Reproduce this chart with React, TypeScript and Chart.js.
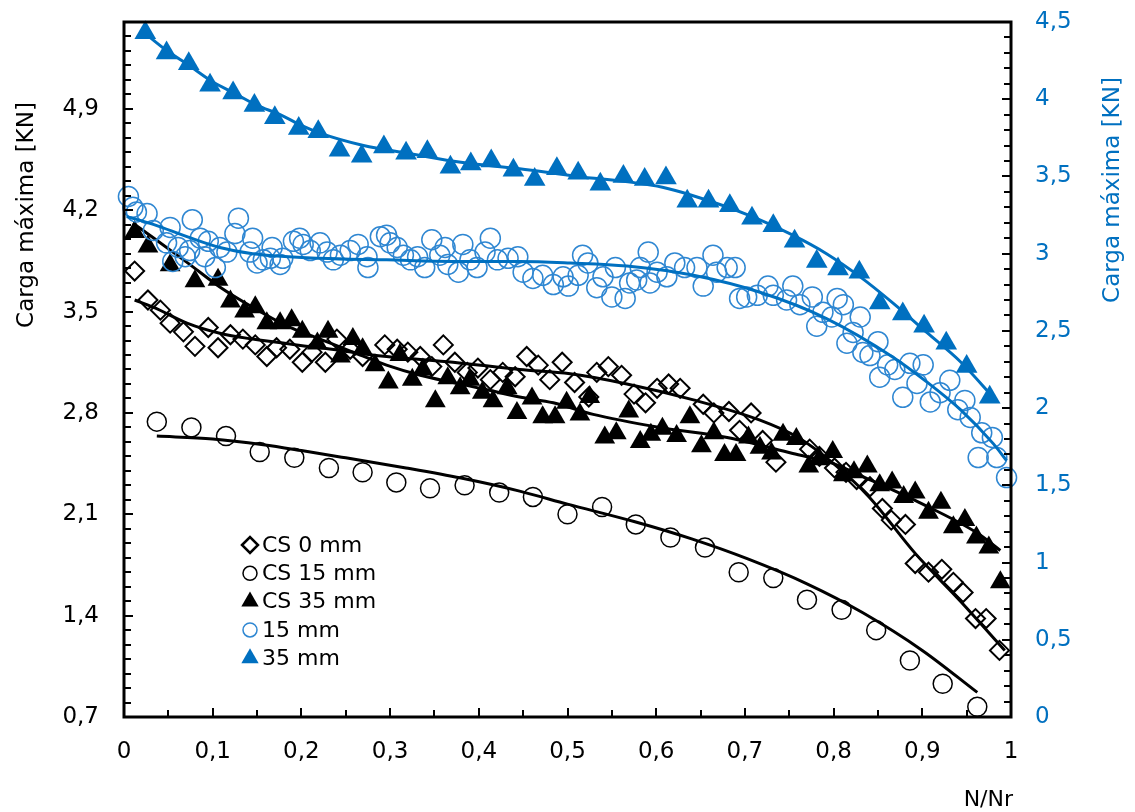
import React, { useEffect, useRef } from 'react';
import { Chart, registerables } from 'chart.js';

Chart.register(...registerables);

const FONT = '"DejaVu Sans", "Open Sans", sans-serif';
const BLACK = '#000000';
const BLUE = '#0070C0';
const BLUE_LIGHT = '#2F87D2';

// ---- axes ----
const X_MIN = 0;
const X_MAX = 1;
const Y_LEFT_MIN = 0.7;
const Y_LEFT_MAX = 5.5;
const Y_RIGHT_MIN = 0;
const Y_RIGHT_MAX = 4.5;
const X_TICKS = [0, 0.1, 0.2, 0.3, 0.4, 0.5, 0.6, 0.7, 0.8, 0.9, 1];
const Y_LEFT_TICKS = [0.7, 1.4, 2.1, 2.8, 3.5, 4.2, 4.9];
const Y_RIGHT_TICKS = [0, 0.5, 1, 1.5, 2, 2.5, 3, 3.5, 4, 4.5];
const X_MINOR_STEP = 0.05;
const Y_LEFT_MINOR_STEP = 0.1;
const Y_RIGHT_MINOR_STEP = 0.1;

const X_TITLE = 'N/Nr';
const Y_TITLE = 'Carga máxima [KN]';
const SERIES_NAMES = ['CS 0 mm', 'CS 15 mm', 'CS 35 mm', '15 mm', '35 mm'];

// ---- CS 0 mm (left axis) ----
const cs0X = [0.012, 0.027, 0.041, 0.052, 0.067, 0.080, 0.095, 0.106, 0.120, 0.134, 0.148, 0.161, 0.172, 0.187, 0.201, 0.212, 0.227, 0.240, 0.255, 0.269, 0.294, 0.308, 0.320, 0.334, 0.347, 0.360, 0.373, 0.387, 0.399, 0.413, 0.427, 0.441, 0.454, 0.467, 0.480, 0.494, 0.508, 0.524, 0.533, 0.546, 0.561, 0.575, 0.588, 0.601, 0.614, 0.627, 0.653, 0.665, 0.682, 0.694, 0.707, 0.720, 0.735, 0.773, 0.784, 0.801, 0.814, 0.826, 0.841, 0.855, 0.865, 0.881, 0.892, 0.907, 0.922, 0.935, 0.946, 0.960, 0.972, 0.987];
const cs0Y = [3.78, 3.58, 3.51, 3.42, 3.36, 3.26, 3.39, 3.25, 3.34, 3.31, 3.27, 3.19, 3.25, 3.24, 3.15, 3.22, 3.15, 3.31, 3.24, 3.19, 3.27, 3.24, 3.22, 3.19, 3.12, 3.27, 3.15, 3.08, 3.11, 3.03, 3.08, 3.05, 3.19, 3.13, 3.03, 3.15, 3.01, 2.91, 3.08, 3.12, 3.06, 2.93, 2.87, 2.97, 3.00, 2.97, 2.86, 2.80, 2.81, 2.68, 2.80, 2.61, 2.46, 2.55, 2.50, 2.42, 2.39, 2.34, 2.29, 2.14, 2.06, 2.03, 1.76, 1.70, 1.72, 1.63, 1.56, 1.38, 1.38, 1.16];
const cs0TrendX = [0.012, 0.033, 0.071, 0.108, 0.145, 0.221, 0.296, 0.371, 0.446, 0.503, 0.567, 0.642, 0.717, 0.760, 0.800, 0.840, 0.892, 0.943, 0.993];
const cs0TrendY = [3.58, 3.53, 3.42, 3.35, 3.31, 3.25, 3.19, 3.15, 3.10, 3.07, 3.00, 2.89, 2.75, 2.63, 2.45, 2.22, 1.83, 1.50, 1.16];

// ---- CS 15 mm (left axis) ----
const cs15X = [0.037, 0.076, 0.115, 0.153, 0.192, 0.231, 0.269, 0.307, 0.345, 0.384, 0.423, 0.461, 0.500, 0.539, 0.577, 0.616, 0.655, 0.693, 0.732, 0.770, 0.809, 0.848, 0.886, 0.923, 0.962];
const cs15Y = [2.74, 2.70, 2.64, 2.53, 2.49, 2.42, 2.39, 2.32, 2.28, 2.30, 2.25, 2.22, 2.10, 2.15, 2.03, 1.94, 1.87, 1.70, 1.66, 1.51, 1.44, 1.30, 1.09, 0.93, 0.77];
const cs15TrendX = [0.037, 0.100, 0.157, 0.200, 0.250, 0.318, 0.380, 0.446, 0.500, 0.575, 0.640, 0.704, 0.770, 0.833, 0.900, 0.962];
const cs15TrendY = [2.64, 2.62, 2.58, 2.54, 2.49, 2.42, 2.35, 2.26, 2.17, 2.05, 1.93, 1.79, 1.62, 1.42, 1.16, 0.87];

// ---- CS 35 mm (left axis) ----
const cs35X = [0.012, 0.027, 0.052, 0.080, 0.106, 0.120, 0.136, 0.148, 0.161, 0.176, 0.189, 0.201, 0.218, 0.230, 0.244, 0.258, 0.269, 0.283, 0.298, 0.311, 0.325, 0.337, 0.351, 0.365, 0.379, 0.390, 0.404, 0.416, 0.432, 0.443, 0.460, 0.472, 0.486, 0.499, 0.514, 0.525, 0.542, 0.555, 0.569, 0.582, 0.594, 0.607, 0.623, 0.638, 0.651, 0.665, 0.677, 0.690, 0.704, 0.717, 0.730, 0.743, 0.758, 0.772, 0.784, 0.799, 0.811, 0.823, 0.838, 0.852, 0.866, 0.879, 0.892, 0.907, 0.921, 0.935, 0.948, 0.961, 0.975, 0.988];
const cs35Y = [4.05, 3.95, 3.82, 3.71, 3.72, 3.57, 3.50, 3.53, 3.42, 3.42, 3.44, 3.36, 3.28, 3.36, 3.19, 3.31, 3.24, 3.13, 3.01, 3.20, 3.03, 3.10, 2.88, 3.04, 2.97, 3.03, 2.94, 2.88, 2.97, 2.80, 2.90, 2.77, 2.77, 2.87, 2.79, 2.91, 2.63, 2.66, 2.81, 2.60, 2.65, 2.69, 2.64, 2.77, 2.57, 2.66, 2.51, 2.51, 2.63, 2.56, 2.52, 2.65, 2.62, 2.43, 2.48, 2.53, 2.37, 2.39, 2.43, 2.30, 2.32, 2.22, 2.25, 2.11, 2.18, 2.01, 2.06, 1.94, 1.87, 1.63];
const cs35TrendX = [0.010, 0.033, 0.071, 0.108, 0.145, 0.184, 0.221, 0.258, 0.296, 0.334, 0.371, 0.409, 0.446, 0.484, 0.529, 0.604, 0.680, 0.754, 0.800, 0.833, 0.897, 0.962, 0.988];
const cs35TrendY = [4.11, 4.01, 3.84, 3.67, 3.53, 3.40, 3.31, 3.22, 3.13, 3.06, 3.01, 2.96, 2.91, 2.87, 2.79, 2.70, 2.63, 2.52, 2.45, 2.36, 2.18, 1.97, 1.85];

// ---- 15 mm (right axis) ----
const m15X = [0.005, 0.010, 0.014, 0.026, 0.033, 0.048, 0.052, 0.055, 0.061, 0.069, 0.074, 0.077, 0.086, 0.091, 0.095, 0.103, 0.108, 0.116, 0.125, 0.129, 0.142, 0.145, 0.150, 0.157, 0.165, 0.167, 0.176, 0.179, 0.191, 0.198, 0.202, 0.210, 0.221, 0.229, 0.236, 0.244, 0.255, 0.264, 0.274, 0.275, 0.289, 0.296, 0.300, 0.308, 0.315, 0.323, 0.331, 0.339, 0.347, 0.356, 0.362, 0.365, 0.377, 0.382, 0.390, 0.398, 0.407, 0.413, 0.421, 0.433, 0.444, 0.450, 0.461, 0.472, 0.484, 0.495, 0.501, 0.512, 0.517, 0.523, 0.533, 0.540, 0.550, 0.554, 0.565, 0.570, 0.578, 0.582, 0.591, 0.593, 0.601, 0.612, 0.621, 0.632, 0.646, 0.653, 0.664, 0.668, 0.680, 0.689, 0.694, 0.702, 0.714, 0.726, 0.732, 0.747, 0.754, 0.762, 0.776, 0.781, 0.788, 0.798, 0.804, 0.811, 0.815, 0.822, 0.830, 0.833, 0.841, 0.850, 0.852, 0.861, 0.869, 0.878, 0.886, 0.894, 0.901, 0.909, 0.920, 0.931, 0.940, 0.948, 0.954, 0.963, 0.967, 0.979, 0.984, 0.995];
const m15Y = [3.37, 3.30, 3.27, 3.26, 3.15, 3.07, 3.17, 2.95, 3.04, 2.98, 3.02, 3.22, 3.10, 2.98, 3.08, 2.91, 3.04, 3.01, 3.13, 3.23, 3.01, 3.10, 2.94, 2.96, 2.97, 3.04, 2.93, 2.97, 3.08, 3.10, 3.06, 3.02, 3.07, 3.01, 2.96, 2.99, 3.02, 3.06, 2.98, 2.91, 3.11, 3.12, 3.07, 3.04, 2.99, 2.96, 2.98, 2.91, 3.09, 2.99, 3.04, 2.93, 2.88, 3.06, 2.96, 2.91, 3.01, 3.10, 2.96, 2.97, 2.98, 2.88, 2.84, 2.86, 2.80, 2.85, 2.79, 2.86, 2.99, 2.94, 2.78, 2.85, 2.72, 2.91, 2.71, 2.81, 2.83, 2.91, 3.01, 2.81, 2.88, 2.85, 2.94, 2.91, 2.91, 2.79, 2.99, 2.88, 2.91, 2.91, 2.71, 2.72, 2.73, 2.79, 2.73, 2.70, 2.79, 2.67, 2.72, 2.53, 2.62, 2.59, 2.71, 2.67, 2.42, 2.49, 2.59, 2.36, 2.34, 2.43, 2.20, 2.28, 2.25, 2.07, 2.29, 2.16, 2.28, 2.04, 2.10, 2.18, 1.99, 2.05, 1.94, 1.68, 1.84, 1.81, 1.68, 1.55];
const m15TrendX = [0.003, 0.033, 0.071, 0.108, 0.145, 0.221, 0.296, 0.371, 0.446, 0.503, 0.567, 0.642, 0.717, 0.792, 0.867, 0.905, 0.943, 0.980, 0.995];
const m15TrendY = [3.24, 3.19, 3.11, 3.04, 3.00, 2.97, 2.96, 2.95, 2.95, 2.94, 2.92, 2.86, 2.75, 2.58, 2.33, 2.17, 1.99, 1.77, 1.66];

// ---- 35 mm (right axis) ----
const m35X = [0.024, 0.048, 0.073, 0.097, 0.123, 0.147, 0.170, 0.197, 0.219, 0.243, 0.268, 0.293, 0.318, 0.342, 0.368, 0.391, 0.414, 0.439, 0.463, 0.488, 0.512, 0.537, 0.563, 0.587, 0.611, 0.635, 0.659, 0.683, 0.708, 0.732, 0.756, 0.781, 0.805, 0.829, 0.852, 0.878, 0.902, 0.927, 0.950, 0.976];
const m35Y = [4.43, 4.30, 4.23, 4.09, 4.04, 3.96, 3.88, 3.81, 3.79, 3.67, 3.63, 3.69, 3.65, 3.66, 3.56, 3.58, 3.60, 3.54, 3.48, 3.55, 3.52, 3.45, 3.50, 3.48, 3.49, 3.34, 3.34, 3.31, 3.23, 3.18, 3.08, 2.95, 2.90, 2.88, 2.68, 2.61, 2.53, 2.42, 2.27, 2.07];
const m35TrendX = [0.023, 0.047, 0.073, 0.098, 0.124, 0.150, 0.176, 0.200, 0.221, 0.270, 0.320, 0.382, 0.446, 0.511, 0.575, 0.607, 0.639, 0.704, 0.754, 0.792, 0.830, 0.867, 0.905, 0.943, 0.980];
const m35TrendY = [4.43, 4.32, 4.22, 4.12, 4.04, 3.96, 3.90, 3.83, 3.78, 3.70, 3.65, 3.59, 3.55, 3.50, 3.46, 3.43, 3.38, 3.25, 3.12, 3.00, 2.85, 2.68, 2.49, 2.30, 2.07];

const pts = (xs: number[], ys: number[]) => xs.map((x, i) => ({ x, y: ys[i] }));
const fmt = (v: number) => String(Math.round(v * 100) / 100).replace('.', ',');

type LegendItem = { name: string; style: string; color: string; filled: boolean; r: number };
const LEGEND: LegendItem[] = [
  { name: SERIES_NAMES[0], style: 'diamond', color: BLACK, filled: false, r: 8 },
  { name: SERIES_NAMES[1], style: 'circle', color: BLACK, filled: false, r: 7 },
  { name: SERIES_NAMES[2], style: 'triangle', color: BLACK, filled: true, r: 10 },
  { name: SERIES_NAMES[3], style: 'circle', color: BLUE_LIGHT, filled: false, r: 7 },
  { name: SERIES_NAMES[4], style: 'triangle', color: BLUE, filled: true, r: 10 },
];

const decorPlugin = {
  id: 'decor',
  afterDatasetsDraw(chart: any) {
    const { ctx, chartArea: a, scales } = chart;
    ctx.save();
    ctx.strokeStyle = BLACK;
    ctx.lineWidth = 3;
    ctx.strokeRect(a.left, a.top, a.right - a.left, a.bottom - a.top);
    ctx.lineWidth = 2;
    const seg = (x1: number, y1: number, x2: number, y2: number) => {
      ctx.beginPath();
      ctx.moveTo(x1, y1);
      ctx.lineTo(x2, y2);
      ctx.stroke();
    };
    const nx = Math.round((X_MAX - X_MIN) / X_MINOR_STEP);
    for (let i = 1; i < nx; i++) {
      const p = Math.round(scales.x.getPixelForValue(X_MIN + i * X_MINOR_STEP));
      seg(p, a.bottom, p, a.bottom - (i % 2 === 0 ? 9 : 7));
    }
    const nl = Math.round((Y_LEFT_MAX - Y_LEFT_MIN) / Y_LEFT_MINOR_STEP);
    for (let i = 1; i < nl; i++) {
      const p = Math.round(scales.y.getPixelForValue(Y_LEFT_MIN + i * Y_LEFT_MINOR_STEP));
      seg(a.left, p, a.left + (i % 7 === 0 ? 9 : 7), p);
    }
    const nr = Math.round((Y_RIGHT_MAX - Y_RIGHT_MIN) / Y_RIGHT_MINOR_STEP);
    for (let i = 1; i < nr; i++) {
      const p = Math.round(scales.y2.getPixelForValue(Y_RIGHT_MIN + i * Y_RIGHT_MINOR_STEP));
      seg(a.right, p, a.right - (i % 5 === 0 ? 9 : 7), p);
    }
    ctx.restore();
  },
  afterDraw(chart: any) {
    const { ctx, chartArea: a } = chart;
    ctx.save();
    ctx.font = `22px ${FONT}`;
    ctx.textBaseline = 'middle';
    ctx.fillStyle = BLACK;
    ctx.save();
    ctx.translate(a.left - 97, a.top + 193);
    ctx.rotate(-Math.PI / 2);
    ctx.textAlign = 'center';
    ctx.font = `23px ${FONT}`;
    ctx.fillText(Y_TITLE, 0, 0);
    ctx.restore();
    ctx.save();
    ctx.fillStyle = BLUE;
    ctx.translate(a.right + 102, a.top + 168);
    ctx.rotate(-Math.PI / 2);
    ctx.textAlign = 'center';
    ctx.font = `23px ${FONT}`;
    ctx.fillText(Y_TITLE, 0, 0);
    ctx.restore();
    ctx.textAlign = 'right';
    ctx.fillText(X_TITLE, a.right + 2, a.bottom + 83);
    const lx = a.left + 126;
    const ly0 = a.top + 523;
    const dy = 28.3;
    LEGEND.forEach((it, i) => {
      const y = ly0 + i * dy;
      ctx.beginPath();
      if (it.style === 'diamond') {
        ctx.moveTo(lx - it.r, y);
        ctx.lineTo(lx, y - it.r);
        ctx.lineTo(lx + it.r, y);
        ctx.lineTo(lx, y + it.r);
        ctx.closePath();
      } else if (it.style === 'circle') {
        ctx.arc(lx, y, it.r, 0, Math.PI * 2);
      } else {
        const r = it.r;
        ctx.moveTo(lx, y - r);
        ctx.lineTo(lx + r * Math.sin((2 * Math.PI) / 3), y + r * 0.5);
        ctx.lineTo(lx - r * Math.sin((2 * Math.PI) / 3), y + r * 0.5);
        ctx.closePath();
      }
      if (it.filled) {
        ctx.fillStyle = it.color;
        ctx.fill();
      } else {
        ctx.strokeStyle = it.color;
        ctx.lineWidth = it.style === 'diamond' ? 2.5 : 1.5;
        ctx.stroke();
      }
      ctx.fillStyle = BLACK;
      ctx.textAlign = 'left';
      ctx.fillText(it.name, lx + 12, y + 1);
    });
    ctx.restore();
  },
};

export default function App() {
  const ref = useRef<HTMLCanvasElement | null>(null);
  useEffect(() => {
    if (!ref.current) return;
    const trend = (xs: number[], ys: number[], color: string, axis: string) => ({
      type: 'scatter' as const,
      data: pts(xs, ys),
      showLine: true,
      borderColor: color,
      borderWidth: 3,
      pointRadius: 0,
      pointHoverRadius: 0,
      cubicInterpolationMode: 'monotone' as const,
      yAxisID: axis,
      clip: false as const,
    });
    const yFit = (s: any) => { s.width = 124; s.paddingTop = 0; s.paddingBottom = 0; };
    const chart = new Chart(ref.current, {
      type: 'scatter',
      data: {
        datasets: [
          { ...trend(m35TrendX, m35TrendY, BLUE, 'y2'), label: SERIES_NAMES[4] + ' trend' },
          { ...trend(m15TrendX, m15TrendY, BLUE, 'y2'), label: SERIES_NAMES[3] + ' trend' },
          {
            label: SERIES_NAMES[4], data: pts(m35X, m35Y), yAxisID: 'y2', pointStyle: 'triangle',
            pointRadius: 12.5, backgroundColor: BLUE, borderColor: BLUE, borderWidth: 0, clip: false,
          },
          {
            label: SERIES_NAMES[3], data: pts(m15X, m15Y), yAxisID: 'y2', pointStyle: 'circle',
            pointRadius: 10, backgroundColor: 'rgba(0,0,0,0)', borderColor: BLUE_LIGHT, borderWidth: 1.5, clip: false,
          },
          { ...trend(cs35TrendX, cs35TrendY, BLACK, 'y'), label: SERIES_NAMES[2] + ' trend' },
          { ...trend(cs15TrendX, cs15TrendY, BLACK, 'y'), label: SERIES_NAMES[1] + ' trend' },
          { ...trend(cs0TrendX, cs0TrendY, BLACK, 'y'), label: SERIES_NAMES[0] + ' trend' },
          {
            label: SERIES_NAMES[2], data: pts(cs35X, cs35Y), yAxisID: 'y', pointStyle: 'triangle',
            pointRadius: 12, backgroundColor: BLACK, borderColor: BLACK, borderWidth: 0, clip: false,
          },
          {
            label: SERIES_NAMES[1], data: pts(cs15X, cs15Y), yAxisID: 'y', pointStyle: 'circle',
            pointRadius: 9.5, backgroundColor: 'rgba(0,0,0,0)', borderColor: BLACK, borderWidth: 1.5, clip: false,
          },
          {
            label: SERIES_NAMES[0], data: pts(cs0X, cs0Y), yAxisID: 'y', pointStyle: 'rectRot',
            pointRadius: 9.5, backgroundColor: 'rgba(0,0,0,0)', borderColor: BLACK, borderWidth: 2, clip: false,
          },
        ] as any,
      },
      options: {
        responsive: false,
        animation: false,
        events: [],
        layout: { padding: { top: 22, left: 0, right: 0, bottom: 0 } },
        plugins: { legend: { display: false }, tooltip: { enabled: false }, title: { display: false } },
        scales: {
          x: {
            type: 'linear', min: X_MIN, max: X_MAX,
            afterBuildTicks: (s: any) => { s.ticks = X_TICKS.map((v) => ({ value: v })); },
            afterFit: (s: any) => { s.height = 95; s.paddingLeft = 0; s.paddingRight = 0; },
            ticks: { padding: 21, color: BLACK, font: { family: FONT, size: 23 }, maxRotation: 0, autoSkip: false, callback: (v: any) => fmt(Number(v)) },
            grid: { display: false, drawTicks: false },
            border: { display: false },
          },
          y: {
            type: 'linear', position: 'left', min: Y_LEFT_MIN, max: Y_LEFT_MAX,
            afterBuildTicks: (s: any) => { s.ticks = Y_LEFT_TICKS.map((v) => ({ value: v })); },
            afterFit: yFit,
            ticks: { padding: 25, color: BLACK, font: { family: FONT, size: 23 }, autoSkip: false, callback: (v: any) => fmt(Number(v)) },
            grid: { display: false, drawTicks: false },
            border: { display: false },
          },
          y2: {
            type: 'linear', position: 'right', min: Y_RIGHT_MIN, max: Y_RIGHT_MAX,
            afterBuildTicks: (s: any) => { s.ticks = Y_RIGHT_TICKS.map((v) => ({ value: v })); },
            afterFit: yFit,
            ticks: { padding: 24, color: BLUE, font: { family: FONT, size: 23 }, autoSkip: false, callback: (v: any) => fmt(Number(v)) },
            grid: { display: false, drawTicks: false },
            border: { display: false },
          },
        },
      } as any,
      plugins: [decorPlugin],
    });
    return () => chart.destroy();
  }, []);
  return (
    <div style={{ position: 'absolute', left: 0, top: 0, width: 1135, height: 812, background: '#fff' }}>
      <canvas ref={ref} width={1135} height={812} style={{ display: 'block' }} />
    </div>
  );
}
